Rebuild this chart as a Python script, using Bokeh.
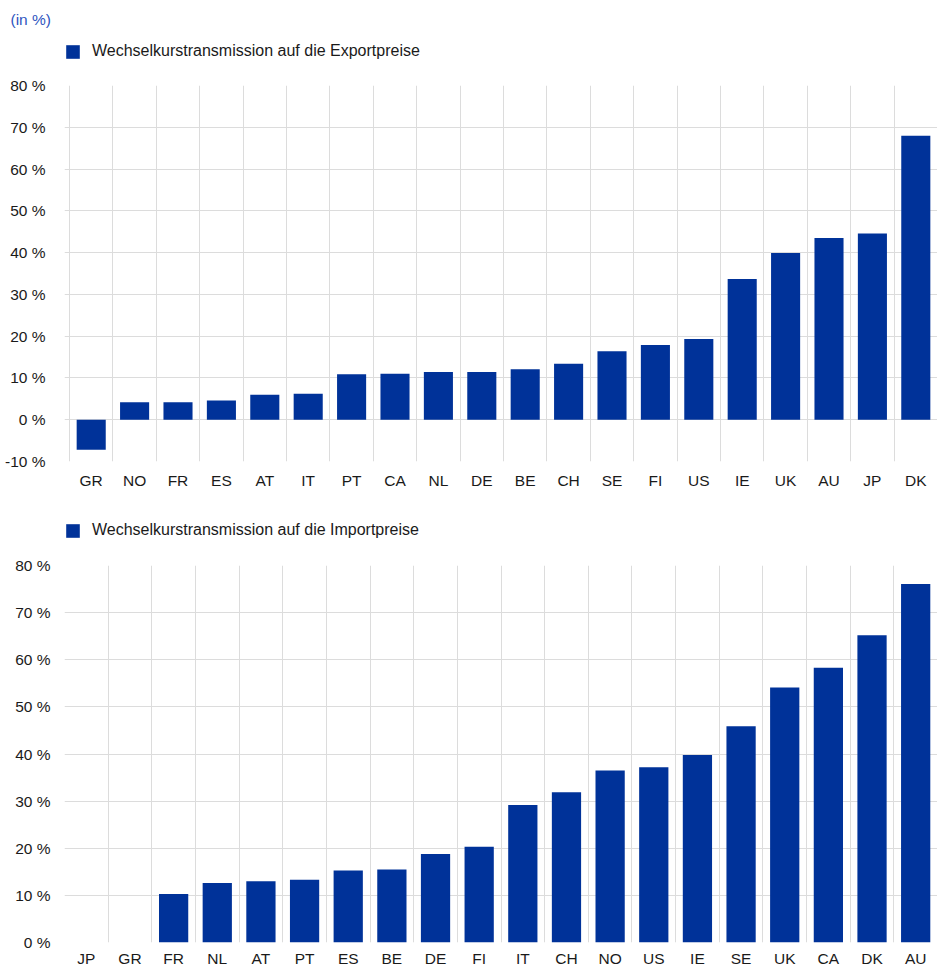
from bokeh.plotting import figure
from bokeh.layouts import column
from bokeh.models import (Range1d, FixedTicker, Legend, LegendItem, Title,
                          ColumnDataSource)
from bokeh.embed import file_html
from bokeh.resources import INLINE

# ---- data ----
export_countries = ["GR", "NO", "FR", "ES", "AT", "IT", "PT", "CA", "NL", "DE",
                    "BE", "CH", "SE", "FI", "US", "IE", "UK", "AU", "JP", "DK"]
export_values = [-7.2, 4.2, 4.2, 4.6, 6.0, 6.2, 10.9, 11.0, 11.4, 11.4,
                 12.1, 13.4, 16.4, 17.9, 19.3, 33.7, 39.9, 43.5, 44.6, 68.0]

import_countries = ["JP", "GR", "FR", "NL", "AT", "PT", "ES", "BE", "DE", "FI",
                    "IT", "CH", "NO", "US", "IE", "SE", "UK", "CA", "DK", "AU"]
import_values = [0.0, 0.0, 10.3, 12.6, 13.0, 13.3, 15.3, 15.5, 18.8, 20.3,
                 29.2, 31.9, 36.5, 37.2, 39.8, 45.9, 54.1, 58.3, 65.2, 76.1]

export_yticks = [-10, 0, 10, 20, 30, 40, 50, 60, 70, 80]
export_ylabels = ["-10 %", "0 %", "10 %", "20 %", "30 %", "40 %", "50 %", "60 %", "70 %", "80 %"]
import_yticks = [0, 10, 20, 30, 40, 50, 60, 70, 80]
import_ylabels = ["0 %", "10 %", "20 %", "30 %", "40 %", "50 %", "60 %", "70 %", "80 %"]

unit_text = "(in %)"
export_legend = "Wechselkurstransmission auf die Exportpreise"
import_legend = "Wechselkurstransmission auf die Importpreise"

BAR = "#003299"
GRID = "#dcdcdc"
FONT = "Liberation Sans"
TXT = "#1a1a1a"
W = 937
LEFT = 64            # common frame left edge (frames of a column are aligned)
FRAME_W = W - LEFT


def make_header(height, top_border, legend_text, legend_xy, unit=None):
    h = figure(output_backend="svg", toolbar_location=None, title=None,
               frame_width=FRAME_W, frame_height=height - top_border,
               min_border_left=LEFT, min_border_right=0,
               min_border_top=top_border, min_border_bottom=0,
               x_axis_type=None, y_axis_type=None,
               x_range=Range1d(0, 1), y_range=Range1d(0, 1),
               background_fill_color="white", border_fill_color="white")
    h.outline_line_color = None
    h.xgrid.visible = False
    h.ygrid.visible = False
    # legend proxy: a bar lying outside the visible range
    r = h.vbar(x=[5], top=[5], bottom=[4], width=0.5, fill_color=BAR, line_color=None)
    legend = Legend(items=[LegendItem(label=legend_text, renderers=[r])],
                    location=legend_xy, orientation="horizontal",
                    glyph_width=17, glyph_height=17, label_standoff=11,
                    label_height=14, padding=0, margin=0, spacing=0,
                    border_line_color=None, background_fill_alpha=0,
                    label_text_font=FONT, label_text_font_size="16px",
                    label_text_color=TXT)
    h.add_layout(legend)
    if unit is not None:
        h.add_layout(Title(text=unit, align="left", offset=10 - LEFT, standoff=0,
                           text_font=FONT, text_font_size="15.5px",
                           text_font_style="normal", text_color="#2f55c0"), "above")
    return h


def make_chart(countries, values, yticks, ylabels, ymin, ymax, first_px,
               frame_h, b_top, b_bottom, x_standoff):
    n = len(countries)
    xs = [i + 0.5 for i in range(n)]
    src = ColumnDataSource(dict(x=xs, top=values, name=countries))
    # first category boundary sits first_px pixels right of the frame edge
    x_start = -first_px * n / (FRAME_W - first_px)
    p = figure(output_backend="svg", toolbar_location=None, title=None,
               x_range=Range1d(x_start, n), y_range=Range1d(ymin, ymax),
               frame_width=FRAME_W, frame_height=frame_h,
               min_border_left=LEFT, min_border_right=0,
               min_border_top=b_top, min_border_bottom=b_bottom,
               background_fill_color="white", border_fill_color="white")
    p.outline_line_color = None
    p.vbar(x="x", top="top", bottom=0, width=0.67, source=src,
           fill_color=BAR, line_color=None)

    # x axis: labels at category centers, grid at category boundaries
    p.xaxis.ticker = FixedTicker(ticks=xs)
    p.xaxis.major_label_overrides = {x: c for x, c in zip(xs, countries)}
    p.xgrid.ticker = FixedTicker(ticks=list(range(n + 1)))
    p.xgrid.grid_line_color = GRID
    p.xgrid.grid_line_width = 1

    p.yaxis.ticker = FixedTicker(ticks=yticks)
    p.yaxis.major_label_overrides = {t: l for t, l in zip(yticks, ylabels)}
    p.ygrid.grid_line_color = GRID
    p.ygrid.grid_line_width = 1

    for ax in (p.xaxis, p.yaxis):
        ax.axis_line_color = None
        ax.major_tick_line_color = None
        ax.minor_tick_line_color = None
        ax.major_tick_out = 0
        ax.major_tick_in = 0
        ax.major_label_text_font = FONT
        ax.major_label_text_font_size = "15.5px"
        ax.major_label_text_color = TXT
    p.yaxis.major_label_standoff = 14 + first_px
    p.xaxis.major_label_standoff = x_standoff
    return p


header1 = make_header(70, 27, export_legend, legend_xy=(0, 10), unit=unit_text)
chart1 = make_chart(export_countries, export_values, export_yticks, export_ylabels,
                    -10, 80, first_px=5, frame_h=376, b_top=15, b_bottom=44,
                    x_standoff=10)
header2 = make_header(50, 0, import_legend, legend_xy=(0, 16))
chart2 = make_chart(import_countries, import_values, import_yticks, import_ylabels,
                    0, 80, first_px=0, frame_h=377, b_top=10, b_bottom=25,
                    x_standoff=7)

layout = column(header1, chart1, header2, chart2, spacing=0)
open("out.html", "w").write(file_html(layout, INLINE))
